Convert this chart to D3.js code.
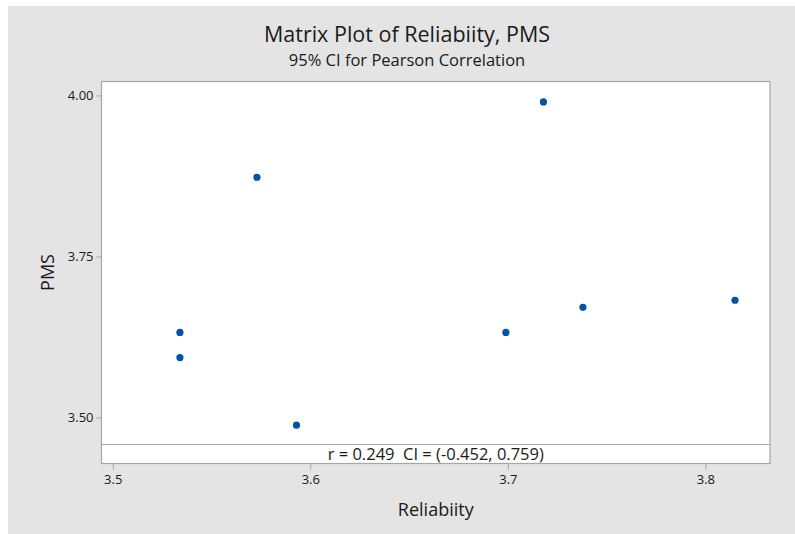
<!DOCTYPE html>
<html>
<head>
<meta charset="utf-8">
<script src="https://cdn.jsdelivr.net/npm/d3@7"></script>
<style>
  body { margin: 0; background: #ffffff; }
  text { font-family: "Open Sans", sans-serif; fill: #1a1a1a; }
</style>
</head>
<body>
<div id="chart-area"></div>
<script>
// Reliabiity vs PMS values
var reliability = [3.534, 3.534, 3.573, 3.593, 3.699, 3.718, 3.738, 3.815];
var pms         = [3.632, 3.593, 3.873, 3.488, 3.632, 3.990, 3.671, 3.682];

var xTicks = [3.5, 3.6, 3.7, 3.8];
var yTicks = [3.50, 3.75, 4.00];

var corrText = "r = 0.249  CI = (-0.452, 0.759)";

var width = 795, height = 534;

var svg = d3.select("#chart-area")
    .append("svg")
    .attr("width", width)
    .attr("height", height);

// gray panel with thin white border at top/left
svg.append("rect")
    .attr("x", 8)
    .attr("y", 6)
    .attr("width", width - 8)
    .attr("height", height - 6)
    .attr("fill", "#e4e4e4");

var plot = {left: 101.5, right: 770, top: 81.5, bottom: 463.5, strip: 444.5};

var x = d3.scaleLinear()
    .domain([3.4943, 3.8327])
    .range([plot.left, plot.right]);

var y = d3.scaleLinear()
    .domain([3.458, 4.0217])
    .range([plot.strip, plot.top]);

// plot area
svg.append("rect")
    .attr("x", plot.left)
    .attr("y", plot.top)
    .attr("width", plot.right - plot.left)
    .attr("height", plot.bottom - plot.top)
    .attr("fill", "#ffffff")
    .attr("stroke", "#a6a6a6")
    .attr("stroke-width", 1.2);

// separator for the correlation strip
svg.append("line")
    .attr("x1", plot.left)
    .attr("x2", plot.right)
    .attr("y1", plot.strip)
    .attr("y2", plot.strip)
    .attr("stroke", "#a6a6a6")
    .attr("stroke-width", 1.2);

// axes
var xAxis = d3.axisBottom(x)
    .tickValues(xTicks)
    .tickFormat(d3.format(".1f"))
    .tickSize(6)
    .tickPadding(5);

var yAxis = d3.axisLeft(y)
    .tickValues(yTicks)
    .tickFormat(d3.format(".2f"))
    .tickSize(5)
    .tickPadding(3);

var gx = svg.append("g")
    .attr("transform", "translate(0," + plot.bottom + ")")
    .call(xAxis);

var gy = svg.append("g")
    .attr("transform", "translate(" + plot.left + ",0)")
    .call(yAxis);

[gx, gy].forEach(function(g) {
    g.select(".domain").remove();
    g.selectAll(".tick line").attr("stroke", "#a6a6a6");
    g.selectAll(".tick text")
        .attr("font-family", "'Open Sans', sans-serif")
        .attr("font-size", 13)
        .attr("fill", "#1a1a1a");
});

// points
svg.selectAll(".dot")
    .data(reliability)
    .enter().append("circle")
    .attr("class", "dot")
    .attr("cx", function(d) { return x(d); })
    .attr("cy", function(d, i) { return y(pms[i]); })
    .attr("r", 3.6)
    .attr("fill", "#0054a6");

// correlation text
svg.append("text")
    .attr("x", (plot.left + plot.right) / 2)
    .attr("y", 460)
    .attr("text-anchor", "middle")
    .attr("font-size", 16.5)
    .style("white-space", "pre")
    .text(corrText);

// titles
svg.append("text")
    .attr("x", 407)
    .attr("y", 42)
    .attr("text-anchor", "middle")
    .attr("font-size", 21.5)
    .text("Matrix Plot of Reliabiity, PMS");

svg.append("text")
    .attr("x", 407)
    .attr("y", 65.5)
    .attr("text-anchor", "middle")
    .attr("font-size", 16.5)
    .text("95% CI for Pearson Correlation");

// axis labels
svg.append("text")
    .attr("x", (plot.left + plot.right) / 2)
    .attr("y", 516)
    .attr("text-anchor", "middle")
    .attr("font-size", 18)
    .text("Reliabiity");

svg.append("text")
    .attr("transform", "translate(54," + ((plot.top + plot.bottom) / 2) + ") rotate(-90)")
    .attr("text-anchor", "middle")
    .attr("font-size", 18)
    .text("PMS");
</script>
</body>
</html>
